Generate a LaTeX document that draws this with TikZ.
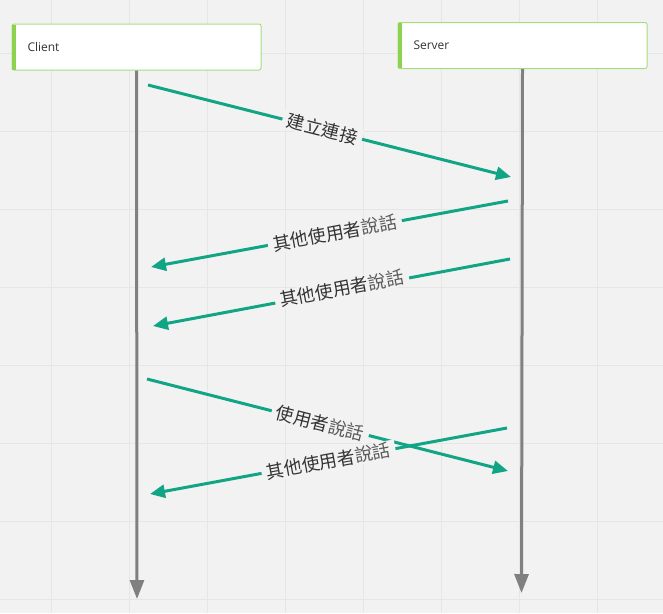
\documentclass[tikz,border=0pt]{standalone}
\usepackage{fontspec}
\setmainfont{Open Sans}
\newfontfamily\cjk{Noto Sans CJK TC}
\usetikzlibrary{arrows.meta,positioning}

\definecolor{bggray}{HTML}{F2F2F2}
\definecolor{gridgray}{HTML}{E6E6E6}
\definecolor{boxgreen}{HTML}{A6DC7E}
\definecolor{bargreen}{HTML}{8CD14F}
\definecolor{lifegray}{HTML}{808080}
\definecolor{msgteal}{HTML}{12A585}
\definecolor{textgray}{HTML}{333333}
\definecolor{softgray}{HTML}{5A5A5A}

\newcommand{\talk}{{\color{softgray}說話}}

\tikzset{
  actor/.style={draw=boxgreen, line width=1pt, fill=white, rounded corners=2pt,
    minimum height=46pt, text width=218pt, inner xsep=15.5pt, align=left,
    text=textgray, font=\fontsize{12}{14}\selectfont},
  lifeline/.style={lifegray, line width=3pt, -{Triangle[length=19pt,width=14pt]}},
  msg/.style={msgteal, line width=3pt, -{Triangle[length=15pt,width=13pt]}},
  msglabel/.style={fill=bggray, inner xsep=5pt, inner ysep=1pt, text=textgray,
    font=\cjk\fontsize{18}{20}\selectfont, sloped}
}

\begin{document}
\begin{tikzpicture}[x=1pt,y=-1pt]
    \fill[bggray] (0,0) rectangle (663,613);
    \useasboundingbox (0,0) rectangle (663,613);
    \foreach \x in {51,129,...,597} \draw[gridgray, line width=1pt] (\x,0) -- (\x,613);
    \foreach \y in {53,131,...,599} \draw[gridgray, line width=1pt] (0,\y) -- (663,\y);

    \node[actor] (client) at (136.5,47) {Client};
    \node[actor] (server) [right=136pt of client, yshift=1.5pt] {Server};
    \draw[bargreen, line width=4pt] ([xshift=2pt,yshift=-1pt]client.north west) -- ([xshift=2pt,yshift=1pt]client.south west);
    \draw[bargreen, line width=4pt] ([xshift=2pt,yshift=-1pt]server.north west) -- ([xshift=2pt,yshift=1pt]server.south west);

    \coordinate (clientend) at (137,599);
    \coordinate (serverend) at (521.5,593);
    \draw[lifeline] (client.south) -- (clientend);
    \draw[lifeline] (server.south) -- (serverend);

    \coordinate (c1) at (148,85);  \coordinate (s1) at (511,177);
    \coordinate (s2) at (508,201); \coordinate (c2) at (151,267);
    \coordinate (s3) at (510,259); \coordinate (c3) at (153,326);
    \coordinate (c4) at (147,379); \coordinate (s4) at (508,471);
    \coordinate (s5) at (507,428); \coordinate (c5) at (150,494);

    \path[msg] (c1) edge node[msglabel, pos=0.48] {建立連接} (s1);
    \path[msg] (s2) edge node[msglabel, pos=0.485] {其他使用者\talk} (c2);
    \path[msg] (s3) edge node[msglabel, pos=0.47, yshift=2pt] {其他使用者\talk} (c3);
    \path[msg] (c4) edge node[msglabel, pos=0.48] {使用者\talk} (s4);
    \path[msg] (s5) edge node[msglabel, pos=0.5] {其他使用者\talk} (c5);
\end{tikzpicture}
\end{document}
